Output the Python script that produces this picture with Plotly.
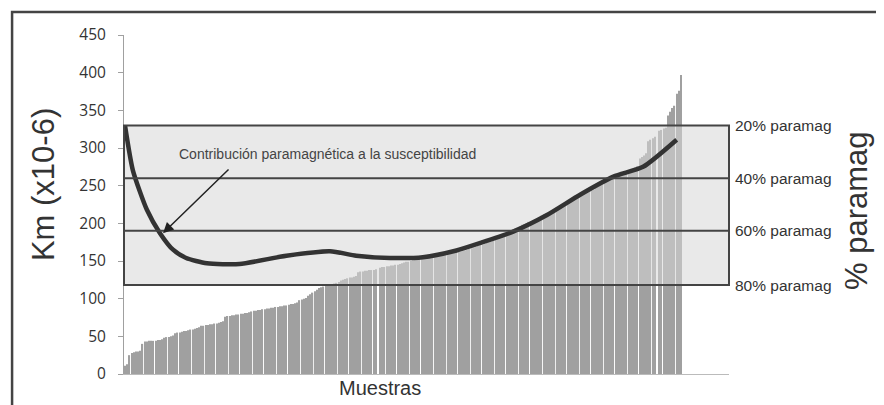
import plotly.graph_objects as go

# ---- data ----
km_values = [
    11, 13, 25, 28, 29, 30, 30, 31, 40,
    43, 43, 44, 44, 44, 44, 45, 45, 46,
    48, 49, 49, 50, 51,
    54, 55, 55, 56, 57, 57,
    58, 59, 59, 60, 61, 62,
    64, 64, 65, 65, 66, 66, 67, 67,
    68, 69, 70,
    76, 77, 77, 78, 78, 79, 79, 80, 80, 81, 81, 82, 83,
    84, 84, 85, 85, 86, 86, 87, 87,
    88, 88, 89, 89, 90, 90, 91, 91,
    92, 93, 93, 94, 95,
    98, 99, 100, 101, 104, 106,
    108, 110, 112, 114, 115, 116,
    117, 118, 118, 119, 120, 121, 122,
    124, 125, 126, 127, 128, 128, 129, 130,
    135, 136, 136, 137, 137, 138, 138, 138, 139,
    None,
    141, 142, 142, 143, 143, 144, 144, 145, 145, 146, 147,
    148, 149, 149, 150, 151, 152,
    153, 153, 154, 154, 154, 155, 155, 156, 156, 157,
    158, 158, 159, 159, 160, 160, 161, 161, 162,
    162, 163, 164, 164, 165, 166, 167, 168, 169,
    171, 172, 172, 173, 174, 175, 176, 177, 178, 180, 182,
    185, 187, 188, 189, 190, 192, 193, 194, 196,
    198, 199, 200, 202, 203, 204, 205, 206, 208,
    210, 212, 213, 214, 215, 216, 217, 219, 220,
    222, 223, 225, 226, 228, 230, 232, 233, 235,
    237, 239, 240, 241, 243, 244, 245, 247, 249,
    251, 252, 254, 255, 257, 258, 260, 261, 263, 264,
    266, 267, 268, 269, 271, 272, 274, 276,
    286, 288, 290, 293,
    309, 311, 313, 315,
    None,
    323, 324, 326, 327,
    343, 348,
    353, 356,
    372, 376,
    397,
]
samples = list(range(len(km_values)))

# paramagnetic contribution trend (sample index, Km)
curve_x = [0, 3.6, 10, 16, 22, 28, 37.5, 52.5, 74, 94, 106, 121.5, 136.6,
           152, 163, 178, 193.5, 208.7, 224, 237.6, 253]
curve_y = [329, 270, 218, 187, 165, 154, 147, 146, 157, 163, 157, 154, 155,
           164, 174, 189, 211, 238, 262, 275, 311]

# paramagnetic level lines (Km) and their labels
level_values = [330, 260, 190, 118]
level_labels = ["20% paramag", "40% paramag", "60% paramag", "80% paramag"]

y_ticks = [0, 50, 100, 150, 200, 250, 300, 350, 400, 450]

x_end = 277
font_main = "Liberation Sans, Arial, sans-serif"

fig = go.Figure()

fig.add_trace(go.Bar(
    x=samples, y=km_values,
    marker=dict(color="#a0a0a0", line=dict(width=0)),
    hoverinfo="skip",
))

# shaded box (above bars, below curve)
box_x = [-0.5, x_end, x_end, -0.5, -0.5]
box_y = [level_values[-1], level_values[-1], level_values[0], level_values[0], level_values[-1]]
fig.add_trace(go.Scatter(
    x=box_x, y=box_y, mode="lines", fill="toself",
    fillcolor="rgba(215,215,215,0.55)", line=dict(width=0),
    hoverinfo="skip",
))

fig.add_trace(go.Scatter(
    x=curve_x, y=curve_y, mode="lines",
    line=dict(color="#333333", width=4.5, shape="spline", smoothing=0.6),
    hoverinfo="skip",
))

shapes = []
# box outline
shapes.append(dict(type="rect", xref="paper", yref="y", x0=0, x1=1,
                   y0=level_values[-1], y1=level_values[0],
                   line=dict(color="#444444", width=2), layer="above"))
for v in level_values[1:-1]:
    shapes.append(dict(type="line", xref="paper", yref="y", x0=0, x1=1,
                       y0=v, y1=v, line=dict(color="#444444", width=2), layer="above"))
# outer frame (extends beyond the picture on the right and bottom)
shapes.append(dict(type="rect", xref="paper", yref="paper",
                   x0=-0.185, x1=1.50, y0=-0.2, y1=1.068,
                   line=dict(color="#444444", width=2.5), layer="above"))

annotations = []
for v, lab in zip(level_values, level_labels):
    annotations.append(dict(xref="paper", yref="y", x=1.006, y=v, text=lab,
                            showarrow=False, xanchor="left", yanchor="middle",
                            font=dict(family=font_main, size=15.5, color="#333333")))

annotations.append(dict(xref="paper", yref="y", x=0.0876, y=292,
                        text="Contribución paramagnética a la susceptibilidad",
                        showarrow=False, xanchor="left", yanchor="middle",
                        font=dict(family=font_main, size=14, color="#444444")))
annotations.append(dict(xref="x", yref="y", x=17.4, y=187, text="",
                        showarrow=True, ax=67, ay=-65, axref="pixel", ayref="pixel",
                        arrowhead=2, arrowsize=1.4, arrowwidth=1.5, arrowcolor="#222222",
                        standoff=0))
annotations.append(dict(xref="paper", yref="paper", x=-0.134, y=0.56,
                        text="Km (x10-6)", textangle=-90, showarrow=False,
                        xanchor="center", yanchor="middle",
                        font=dict(family=font_main, size=31, color="#333333")))
annotations.append(dict(xref="paper", yref="paper", x=1.2116, y=0.481,
                        text="% paramag", textangle=-90, showarrow=False,
                        xanchor="center", yanchor="middle",
                        font=dict(family=font_main, size=31, color="#333333")))
annotations.append(dict(xref="paper", yref="paper", x=0.4231, y=-0.041,
                        text="Muestras", showarrow=False,
                        xanchor="center", yanchor="middle",
                        font=dict(family=font_main, size=20, color="#333333")))

# page body has an 8px margin: shrink the figure so it fits the 884x405 window
fig.update_layout(
    width=876, height=397,
    margin=dict(l=116, r=155, t=27, b=31),
    paper_bgcolor="white", plot_bgcolor="white",
    showlegend=False, bargap=0.45,
    font=dict(family=font_main, color="#333333"),
    shapes=shapes, annotations=annotations,
    xaxis=dict(range=[-0.5, x_end], showgrid=False, zeroline=False,
               showticklabels=False, ticks="", showline=True,
               linecolor="#bbbbbb", linewidth=1),
    yaxis=dict(range=[0, 450], tickvals=y_ticks, showgrid=False, zeroline=False,
               showline=True, linecolor="#a0a0a0", linewidth=1,
               ticks="outside", ticklen=5, tickcolor="#a0a0a0",
               ticklabelstandoff=9,
               tickfont=dict(family="Open Sans, sans-serif", size=15.5, color="#333333")),
)

fig.write_html("out.html")
